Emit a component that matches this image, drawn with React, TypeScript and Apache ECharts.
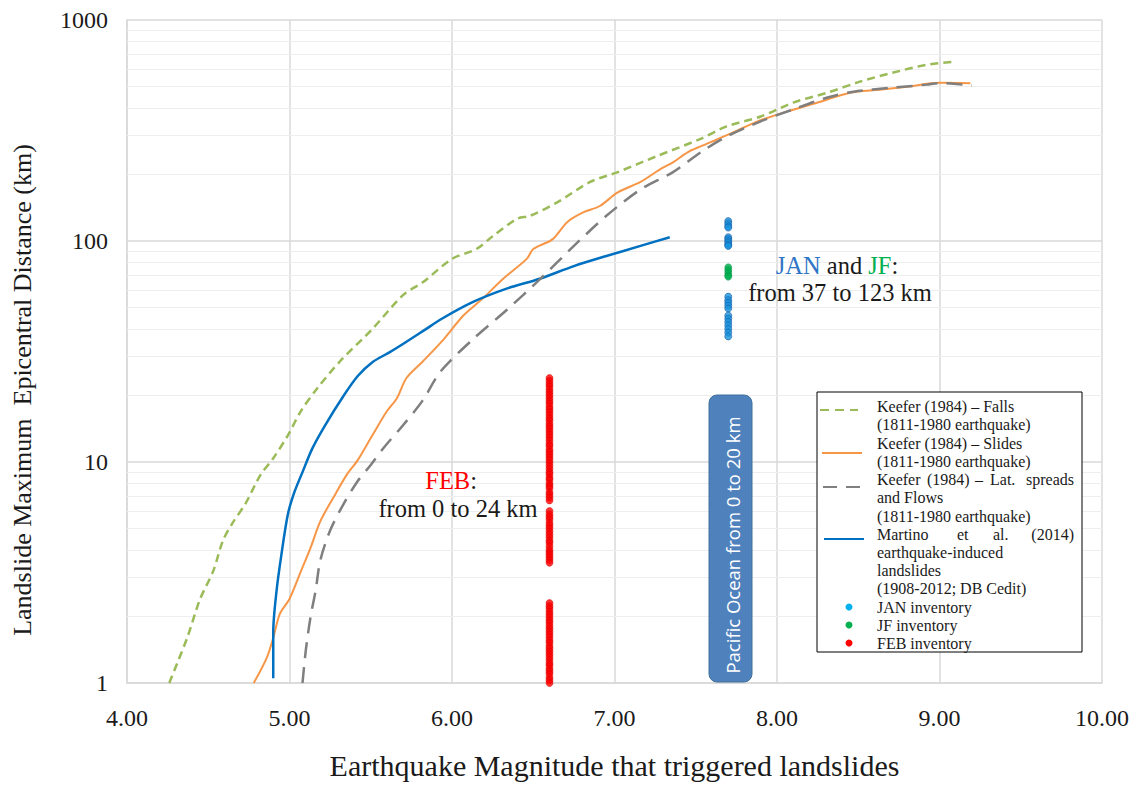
import React, { useEffect, useRef } from "react";
import * as echarts from "echarts";

// ---- Data ----
const xTickMin = 4;
const xTickMax = 10;
const yMin = 1;
const yMax = 1000;
const yMinorLines = [2, 3, 4, 5, 6, 7, 8, 9, 20, 30, 40, 50, 60, 70, 80, 90, 200, 300, 400, 500, 600, 700, 800, 900];

const fallsCurve: [number, number][] = [
  [4.26, 1], [4.37, 1.6], [4.45, 2.4], [4.53, 3.2], [4.59, 4.4], [4.65, 5.3], [4.73, 6.5],
  [4.82, 8.7], [4.9, 10.4], [4.99, 13.2], [5.07, 17], [5.17, 21.5], [5.31, 28.5], [5.51, 40],
  [5.7, 57], [5.82, 65], [6.0, 83], [6.15, 92], [6.25, 105], [6.4, 126], [6.48, 130],
  [6.65, 150], [6.85, 185], [7.02, 205], [7.26, 242], [7.53, 290], [7.69, 330], [7.9, 366],
  [8.1, 423], [8.31, 469], [8.51, 526], [8.71, 577], [8.92, 627], [9.08, 647],
];

const slidesCurve: [number, number][] = [
  [4.78, 1], [4.86, 1.3], [4.9, 1.6], [4.94, 2.05], [5.0, 2.4], [5.07, 3.2], [5.13, 4.1],
  [5.19, 5.4], [5.27, 6.9], [5.35, 8.7], [5.42, 10.2], [5.51, 13.2], [5.6, 17], [5.66, 19.4],
  [5.72, 24], [5.82, 28.5], [5.95, 36], [6.07, 46], [6.19, 55], [6.31, 67], [6.46, 83],
  [6.5, 92], [6.62, 102], [6.71, 122], [6.81, 135], [6.91, 144], [7.02, 166], [7.16, 185],
  [7.28, 211], [7.36, 227], [7.45, 252], [7.53, 268], [7.63, 288], [7.73, 310], [7.88, 348],
  [8.06, 385], [8.25, 423], [8.45, 469], [8.63, 484], [8.8, 499], [9.0, 520], [9.19, 518],
];

const spreadsCurve: [number, number][] = [
  [5.08, 1], [5.1, 1.4], [5.13, 2.0], [5.16, 2.6], [5.19, 3.6], [5.25, 4.9], [5.33, 6.4],
  [5.42, 8.2], [5.5, 9.7], [5.58, 11.6], [5.7, 14.7], [5.82, 19], [5.93, 25.7], [6.13, 36],
  [6.34, 49], [6.54, 67], [6.75, 95], [6.95, 130], [7.16, 171], [7.36, 205], [7.53, 252],
  [7.69, 297], [7.9, 348], [8.1, 394], [8.31, 446], [8.47, 474], [8.71, 494], [8.92, 510],
  [9.0, 518], [9.2, 505],
];

const martinoCurve: [number, number][] = [
  [4.9, 1.05], [4.9, 1.7], [4.92, 2.6], [4.95, 3.8], [4.99, 5.8], [5.03, 7.3], [5.08, 9.0],
  [5.14, 11.5], [5.22, 14.7], [5.33, 19.8], [5.42, 24.5], [5.51, 28.3], [5.62, 31.5],
  [5.72, 35], [5.83, 39.5], [5.94, 44.6], [6.13, 53], [6.34, 61], [6.54, 67.5], [6.75, 77],
  [6.95, 85.5], [7.16, 95], [7.34, 104],
];

const janMagnitude = 7.7;
const janDistances = [
  123, 120, 117, 115,
  104, 102, 100, 98, 96, 95,
  56, 54, 52.5, 51, 49.5,
  46, 44.5, 43, 41.5, 40, 38.5, 37,
];
const jfMagnitude = 7.7;
const jfDistances = [76, 74, 72, 70, 69];
const febMagnitude = 6.6;
const febDistances = [
  24, 23.3, 22.6, 22, 21.3, 20.7, 20.1, 19.5, 18.9, 18.4, 17.8, 17.3, 16.8, 16.3, 15.8, 15.4,
  14.9, 14.5, 14.1, 13.7, 13.3, 12.9, 12.5, 12.1, 11.8, 11.4, 11.1, 10.8, 10.5, 10.2, 9.9, 9.6,
  9.3, 9.0, 8.8, 8.5, 8.3, 8.0, 7.8, 7.6, 7.3, 7.1, 6.9, 6.7,
  6.0, 5.8, 5.65, 5.5, 5.3, 5.15, 5.0, 4.85, 4.7, 4.55, 4.4, 4.3, 4.15, 4.0, 3.9, 3.8, 3.7, 3.6, 3.5,
  2.3, 2.23, 2.17, 2.1, 2.04, 1.98, 1.92, 1.87, 1.81, 1.76, 1.71, 1.66, 1.61, 1.56, 1.52, 1.47,
  1.43, 1.39, 1.35, 1.31, 1.27, 1.23, 1.2, 1.16, 1.13, 1.1, 1.06, 1.03, 1.0,
];

const SERIF = "'Liberation Serif', 'DejaVu Serif', serif";
const TXT = "#1a1a1a";

export default function App() {
  const ref = useRef<HTMLDivElement>(null);

  useEffect(() => {
    if (!ref.current) return;
    const chart = echarts.init(ref.current, null, { renderer: "svg" });

    const legendTextLines: { t: string; x: number; y: number; align?: string }[] = [
      { t: "Keefer (1984) – Falls", x: 877, y: 406 },
      { t: "(1811-1980 earthquake)", x: 877, y: 424 },
      { t: "Keefer (1984) – Slides", x: 877, y: 443 },
      { t: "(1811-1980 earthquake)", x: 877, y: 461 },
      { t: "Keefer", x: 877, y: 479 },
      { t: "(1984)", x: 927, y: 479 },
      { t: "–", x: 975, y: 479 },
      { t: "Lat.", x: 990, y: 479 },
      { t: "spreads", x: 1074, y: 479, align: "right" },
      { t: "and Flows", x: 877, y: 497 },
      { t: "(1811-1980 earthquake)", x: 877, y: 516 },
      { t: "Martino", x: 877, y: 534 },
      { t: "et", x: 957, y: 534 },
      { t: "al.", x: 993, y: 534 },
      { t: "(2014)", x: 1074, y: 534, align: "right" },
      { t: "earthquake-induced", x: 877, y: 552 },
      { t: "landslides", x: 877, y: 570 },
      { t: "(1908-2012; DB Cedit)", x: 877, y: 588 },
      { t: "JAN inventory", x: 877, y: 607 },
      { t: "JF inventory", x: 877, y: 625 },
      { t: "FEB inventory", x: 877, y: 643 },
    ];

    const graphic: any[] = [
      {
        type: "text",
        x: 22,
        y: 390,
        rotation: Math.PI / 2,
        style: {
          text: "Landslide Maximum  Epicentral Distance (km)",
          font: `26px ${SERIF}`,
          fill: TXT,
          align: "center",
          verticalAlign: "middle",
        },
        z: 10,
      },
      {
        type: "text",
        x: 477,
        y: 480,
        style: {
          text: "{r|FEB}{k|:}",
          align: "right",
          verticalAlign: "middle",
          rich: {
            r: { fill: "#ff0000", font: `24.5px ${SERIF}` },
            k: { fill: TXT, font: `24.5px ${SERIF}` },
          },
        },
        z: 10,
      },
      {
        type: "text",
        x: 458,
        y: 508,
        style: { text: "from 0 to 24 km", font: `24.5px ${SERIF}`, fill: TXT, align: "center", verticalAlign: "middle" },
        z: 10,
      },
      {
        type: "text",
        x: 837,
        y: 265,
        style: {
          text: "{b|JAN}{k| and }{g|JF}{k|:}",
          align: "center",
          verticalAlign: "middle",
          rich: {
            b: { fill: "#2e75c6", font: `24.5px ${SERIF}` },
            g: { fill: "#00b050", font: `24.5px ${SERIF}` },
            k: { fill: TXT, font: `24.5px ${SERIF}` },
          },
        },
        z: 10,
      },
      {
        type: "text",
        x: 840,
        y: 292,
        style: { text: "from 37 to 123 km", font: `24.5px ${SERIF}`, fill: TXT, align: "center", verticalAlign: "middle" },
        z: 10,
      },
      {
        type: "rect",
        shape: { x: 709, y: 395, width: 43, height: 287, r: 8 },
        style: { fill: "#4f81bd", stroke: "#41719c", lineWidth: 1 },
        z: 10,
      },
      {
        type: "text",
        x: 732,
        y: 545,
        rotation: Math.PI / 2,
        style: {
          text: "Pacific Ocean from 0 to 20 km",
          font: "18.5px 'Open Sans', 'Noto Sans', sans-serif",
          fill: "#ffffff",
          align: "center",
          verticalAlign: "middle",
        },
        z: 11,
      },
      {
        type: "rect",
        shape: { x: 817, y: 392, width: 265, height: 260 },
        style: { fill: "#ffffff", stroke: "#000000", lineWidth: 1 },
        z: 10,
      },
      {
        type: "line",
        shape: { x1: 820, y1: 410, x2: 858, y2: 410 },
        style: { stroke: "#9bbb59", lineWidth: 2, lineDash: [9, 6] },
        z: 11,
      },
      {
        type: "line",
        shape: { x1: 822, y1: 453, x2: 862, y2: 453 },
        style: { stroke: "#f79646", lineWidth: 2 },
        z: 11,
      },
      {
        type: "line",
        shape: { x1: 823, y1: 487, x2: 862, y2: 487 },
        style: { stroke: "#808080", lineWidth: 2, lineDash: [14, 9] },
        z: 11,
      },
      {
        type: "line",
        shape: { x1: 824, y1: 539, x2: 864, y2: 539 },
        style: { stroke: "#0070c0", lineWidth: 2 },
        z: 11,
      },
      { type: "circle", shape: { cx: 849, cy: 607, r: 3.5 }, style: { fill: "#00b0f0" }, z: 11 },
      { type: "circle", shape: { cx: 849, cy: 625, r: 3.5 }, style: { fill: "#00b050" }, z: 11 },
      { type: "circle", shape: { cx: 849, cy: 643, r: 3.5 }, style: { fill: "#ff0000" }, z: 11 },
      ...legendTextLines.map((l) => ({
        type: "text",
        x: l.x,
        y: l.y,
        style: {
          text: l.t,
          font: `16px ${SERIF}`,
          fill: TXT,
          align: l.align || "left",
          verticalAlign: "middle",
        },
        z: 11,
      })),
    ];

    const option: any = {
      animation: false,
      backgroundColor: "#ffffff",
      grid: { left: 127, top: 20, right: 44, bottom: 99, containLabel: false },
      legend: { show: false },
      xAxis: {
        type: "value",
        min: xTickMin,
        max: xTickMax,
        interval: 1,
        name: "Earthquake Magnitude that triggered landslides",
        nameLocation: "middle",
        nameGap: 67,
        nameTextStyle: { fontFamily: SERIF, fontSize: 30, color: TXT },
        axisLine: { show: true, lineStyle: { color: "#d9d9d9", width: 1.5 } },
        axisTick: { show: false },
        axisLabel: {
          formatter: (v: number) => v.toFixed(2),
          fontFamily: SERIF,
          fontSize: 24,
          color: TXT,
          margin: 23,
        },
        splitLine: { show: true, lineStyle: { color: "#d9d9d9", width: 1.5 } },
      },
      yAxis: {
        type: "log",
        logBase: 10,
        min: yMin,
        max: yMax,
        axisLine: { show: true, lineStyle: { color: "#d9d9d9", width: 1.5 } },
        axisTick: { show: false },
        axisLabel: {
          formatter: (v: number) => String(v),
          fontFamily: SERIF,
          fontSize: 24,
          color: TXT,
          margin: 19,
        },
        splitLine: { show: true, lineStyle: { color: "#d9d9d9", width: 1.5 } },
      },
      graphic,
      series: [
        {
          name: "Keefer (1984) – Falls",
          type: "line",
          data: fallsCurve,
          symbol: "none",
          smooth: 0.3,
          z: 3,
          lineStyle: { color: "#9bbb59", width: 2.5, type: [8, 5] },
          markLine: {
            silent: true,
            symbol: "none",
            z: 1,
            label: { show: false },
            lineStyle: { color: "#eeeeee", width: 1, type: "solid" },
            data: yMinorLines.map((v) => ({ yAxis: v })),
          },
        },
        {
          name: "Keefer (1984) – Slides",
          type: "line",
          data: slidesCurve,
          symbol: "none",
          smooth: 0.3,
          z: 3,
          lineStyle: { color: "#f79646", width: 2 },
        },
        {
          name: "Keefer (1984) – Lat. spreads and Flows",
          type: "line",
          data: spreadsCurve,
          symbol: "none",
          smooth: 0.3,
          z: 4,
          lineStyle: { color: "#7f7f7f", width: 2.5, type: [16, 9] },
        },
        {
          name: "Martino et al. (2014)",
          type: "line",
          data: martinoCurve,
          symbol: "none",
          smooth: 0.3,
          z: 3,
          lineStyle: { color: "#0070c0", width: 2.5 },
        },
        {
          name: "JAN inventory",
          type: "scatter",
          data: janDistances.map((d) => [janMagnitude, d]),
          symbolSize: 7,
          z: 5,
          itemStyle: { color: "#1592dc", borderColor: "#1d5fa8", borderWidth: 0.8 },
        },
        {
          name: "JF inventory",
          type: "scatter",
          data: jfDistances.map((d) => [jfMagnitude, d]),
          symbolSize: 7,
          z: 5,
          itemStyle: { color: "#00b050", borderColor: "#009040", borderWidth: 0.6 },
        },
        {
          name: "FEB inventory",
          type: "scatter",
          data: febDistances.map((d) => [febMagnitude, d]),
          symbolSize: 7,
          z: 5,
          itemStyle: { color: "#ff0000", borderColor: "#d00000", borderWidth: 0.6 },
        },
      ],
    };

    chart.setOption(option);
    return () => chart.dispose();
  }, []);

  return (
    <div
      ref={ref}
      style={{ position: "fixed", left: 0, top: 0, width: 1146, height: 785, background: "#ffffff" }}
    />
  );
}
